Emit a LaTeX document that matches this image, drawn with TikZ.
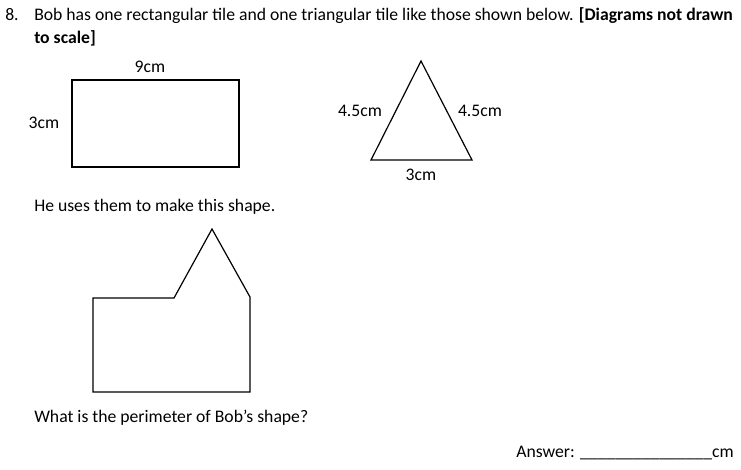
\documentclass[tikz,border=0pt]{standalone}
\usepackage{fontspec}
\setmainfont{Carlito}
\begin{document}
\begin{tikzpicture}[x=0.75pt,y=-0.75pt]
\tikzstyle{txt}=[inner sep=0pt, anchor=base west, font=\fontsize{13.25}{16}\selectfont]
\tikzstyle{lbl}=[inner sep=0pt, anchor=base, font=\fontsize{13.25}{16}\selectfont]
\tikzstyle{tile}=[draw=black, line width=0.9pt, line join=miter]
\useasboundingbox (0,0) rectangle (741,469);

% Question text
\node[txt] (num) at (5,20) {8.};
\node[txt] (q1) at (34,20) {Bob has one rectangular tile and one triangular tile like those shown below. \textbf{[Diagrams not drawn}};
\node[txt] (q2) at (34,43) {\textbf{to scale]}};

% Rectangular tile
\coordinate (r1) at (72,80);
\coordinate (r2) at (239,80);
\coordinate (r3) at (239,167);
\coordinate (r4) at (72,167);
\draw[tile] (r1) -- (r2) -- (r3) -- (r4) -- cycle;
\node[lbl] (rw) at (150,72) {9cm};
\node[lbl] (rh) at (44,128) {3cm};

% Triangular tile
\coordinate (t1) at (421,61);
\coordinate (t2) at (371,160);
\coordinate (t3) at (472,160);
\draw[tile] (t1) -- (t2) -- (t3) -- cycle;
\node[lbl] (tl) at (360,116) {4.5cm};
\node[lbl] (tr) at (480,116) {4.5cm};
\node[lbl] (tb) at (421,180) {3cm};

% Bob's shape
\node[txt] (s1) at (34,211) {He uses them to make this shape.};
\coordinate (h1) at (93,298);
\coordinate (h2) at (174,298);
\coordinate (h3) at (212,229);
\coordinate (h4) at (250,297);
\coordinate (h5) at (250,392);
\coordinate (h6) at (93,392);
\draw[tile] (h1) -- (h2) -- (h3) -- (h4) -- (h5) -- (h6) -- cycle;

% Question and answer
\node[txt] (s2) at (34,422) {What is the perimeter of Bob’s shape?};
\node[txt] (ans) at (516,457) {Answer: \_\_\_\_\_\_\_\_\_\_\_\_\_\_\_cm};
\end{tikzpicture}
\end{document}
